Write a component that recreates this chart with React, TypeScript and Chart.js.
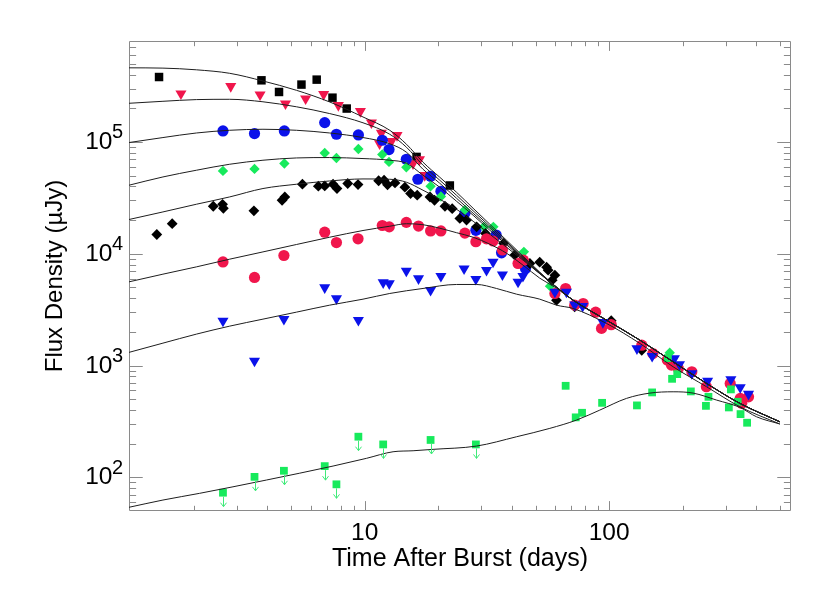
import React, { useEffect, useRef } from "react";
import { Chart, registerables } from "chart.js";

Chart.register(...registerables);

// ---------------- data (days, microJansky) ----------------
const blackSquareT = [1.44, 3.78, 4.46, 5.51, 6.36, 7.38, 8.44, 16.3, 22.3];
const blackSquareF = [381000, 356000, 280000, 326000, 361000, 249000, 199000, 73500, 40800];

const redTriangleT = [1.77, 2.83, 3.73, 4.74, 5.73, 6.79, 7.8, 9.6, 10.65, 11.5, 11.7, 12.86, 13.56, 15.76, 16.75, 17.6];
const redTriangleF = [270700, 314700, 265200, 220400, 244300, 266900, 212900, 188100, 149000, 96800, 120300, 101400, 114800, 64100, 69600, 50400];

const blueCircleT = [2.63, 3.54, 4.69, 6.86, 7.66, 9.42, 11.8, 12.57, 14.8, 16.5, 18.6, 20.5, 25.7, 28.5, 34.5, 36.3, 45.5];
const blueCircleF = [125400, 118900, 125400, 149000, 117200, 115500, 103600, 85500, 70000, 46400, 49300, 36200, 23000, 16200, 14700, 10200, 7380];

const greenDiamondT = [2.63, 3.54, 4.69, 6.86, 7.66, 9.42, 11.8, 12.57, 14.8, 18.6, 20.5, 25.7, 30.7, 33.6, 44.8, 57.3, 177];
const greenDiamondF = [55100, 57400, 64100, 79700, 71900, 86600, 77200, 66300, 59400, 40200, 32500, 24700, 17400, 17400, 10400, 5130, 1300];

const blackDiamondT = [1.41, 1.63, 2.4, 2.62, 2.64, 3.52, 4.59, 4.71, 5.56, 6.46, 6.86, 7.42, 7.7, 8.52, 9.39, 11.4, 12.0, 12.4, 13.3, 14.6, 15.4, 16.4, 18.5, 19.3, 21.3, 22.8, 24.5, 26.1, 28.7, 31.2, 37.0, 41.1, 47.4, 52.0, 55.5, 56.3, 58.5, 60.0, 60.9, 72.3, 102, 136];
const blackDiamondF = [14870, 18600, 26600, 27700, 25500, 24200, 30100, 32200, 41900, 40200, 40400, 41900, 38300, 42500, 41600, 45000, 45500, 41400, 43000, 39400, 34600, 33400, 32200, 30100, 26600, 25300, 20700, 20000, 17400, 15200, 12400, 9730, 8180, 8400, 7580, 7130, 5800, 6430, 3840, 3350, 2520, 1370];

const redCircleT = [2.63, 3.54, 4.67, 6.86, 7.66, 9.39, 11.8, 12.6, 14.8, 16.6, 18.6, 20.5, 25.7, 28.5, 31.5, 33.5, 36.6, 42.4, 44.6, 60.0, 66.4, 72.3, 78.3, 88.1, 93.1, 102, 136, 151, 173, 180, 192, 218, 250, 313, 344, 349, 372];
const redCircleF = [8450, 6140, 9650, 15600, 12600, 13600, 17900, 17400, 19100, 17700, 16000, 16000, 15300, 12800, 13600, 13000, 10800, 8180, 8760, 4410, 4890, 3470, 3590, 3000, 2150, 2320, 1520, 1280, 1120, 1010, 943, 880, 646, 692, 508, 459, 525];

const blueTriangleT = [2.63, 3.54, 4.67, 6.86, 7.66, 9.42, 11.9, 12.6, 14.8, 16.6, 18.6, 20.5, 25.5, 28.5, 31.5, 33.5, 36.6, 42.4, 44.4, 60.0, 66.9, 72.3, 77.9, 94.3, 130, 150, 185, 194, 218, 253, 315, 344, 372];
const blueTriangleF = [2510, 1100, 2600, 4990, 3980, 2550, 5530, 5420, 7030, 6010, 4720, 6300, 7350, 5930, 7130, 8450, 6500, 5600, 6300, 4560, 4560, 3500, 3400, 2440, 1420, 1215, 1160, 1023, 851, 730, 752, 638, 556];

const greenSquareT = [2.63, 3.54, 4.67, 6.86, 7.66, 9.42, 11.9, 18.6, 28.5, 66.4, 73.0, 77.5, 93.6, 130, 150, 174, 181, 190, 216, 249, 255, 309, 315, 336, 345, 367];
const greenSquareF = [72.9, 101, 114.5, 126, 86.6, 231, 197, 216, 197, 659, 344, 378, 464, 440, 575, 1165, 761, 838, 587, 436, 525, 422, 612, 474, 368, 308];
const greenSquareUpperLimit = [true, true, true, true, true, true, true, true, true, false, false, false, false, false, false, false, false, false, false, false, false, false, false, false, false, false];

// model curves
const modelT = [1.084, 1.494, 2.047, 2.802, 3.834, 5.254, 7.19, 9.84, 12.66, 14.82, 17.32, 20.28, 23.74, 27.76, 32.49, 38.02, 44.46, 52.04, 60.91, 71.23, 97.6, 133.6, 182.8, 250.5, 342.8, 499.6];
const model1F = [460500, 457700, 442000, 411300, 351000, 289900, 227800, 167300, 127200, 95400, 65870, 48350, 35510, 25550, 18370, 13220, 9513, 6845, 5025, 3846, 2548, 1688, 1080, 692, 459, 314];
const model2F = [221800, 231100, 239300, 240800, 228700, 206400, 179400, 148400, 117200, 89700, 61900, 45470, 33390, 24270, 17630, 12820, 9320, 6775, 5025, 3846, 2548, 1688, 1080, 692, 459, 314];
const model3F = [98770, 109500, 120300, 127200, 129900, 127200, 120300, 109500, 96360, 80900, 57000, 42730, 31390, 23050, 16920, 12430, 9130, 6705, 5025, 3846, 2548, 1688, 1080, 692, 459, 314];
const model4F = [41010, 48650, 55850, 63200, 68640, 71940, 72530, 71050, 68640, 64500, 50400, 39360, 29510, 22120, 16240, 12050, 8945, 6636, 5025, 3846, 2548, 1688, 1080, 692, 459, 314];
const model5F = [20240, 23670, 27730, 32240, 38330, 41860, 44790, 46680, 46390, 43620, 37000, 30750, 25030, 19550, 14960, 11450, 8760, 6636, 5025, 3846, 2548, 1688, 1080, 692, 459, 314];
const model6F = [5605, 6568, 7630, 8945, 10390, 12100, 14060, 16140, 17630, 18560, 18190, 16920, 15430, 14060, 12180, 10120, 7902, 6047, 4922, 3846, 2548, 1688, 1080, 692, 459, 314];
const model7T = [1.084, 1.494, 2.047, 2.802, 3.834, 5.254, 7.19, 9.84, 12.66, 17.32, 23.74, 28.7, 34.6, 41.8, 52.04, 60.91, 71.23, 97.6, 133.6, 182.8, 250.5, 342.8, 499.6];
const model7F = [1311, 1587, 1910, 2252, 2601, 3004, 3470, 3925, 4413, 4893, 5312, 5312, 4893, 4350, 3925, 3470, 3240, 2380, 1577, 975, 646, 428, 300];
const model8T = [1.084, 1.494, 2.11, 3.96, 7.42, 10.16, 13.06, 15.77, 19.04, 28.7, 41.8, 57.2, 73.56, 91.6, 117.8, 146.8, 182.8, 220.7, 275.3, 342.8, 401.3, 499.6];
const model8F = [53.95, 62.66, 71.95, 94.6, 126.2, 147.9, 169.4, 172.9, 178, 190.5, 230.7, 274.2, 325.3, 399.5, 508.4, 567, 582.5, 567, 491, 422.6, 348, 300];

// axes
const X_MIN = 1.085;
const X_MAX = 555;
const Y_MIN = 50;
const Y_MAX = 800000;
const X_TICK_LABELS = [10, 100];
const Y_TICK_EXPONENTS = [2, 3, 4, 5];
const X_TITLE = "Time After Burst (days)";
const Y_TITLE = "Flux Density (\u00b5Jy)";

// ---------------- styles ----------------
const FONT = "'Liberation Sans', Arial, Helvetica, sans-serif";
const BLACK = "#000000";
const RED = "#f0164c";
const BLUE = "#0b12ea";
const GREEN = "#17ea5c";
const ARROW_GREEN = "#40ea7a";
const LINE_COLOR = "#1e1e1e";
const AXIS_COLOR = "#8a8a8a";

const zip = (t: number[], f: number[]) => t.map((v, i) => ({ x: v, y: f[i] }));

const pointSet = (label: string, t: number[], f: number[], color: string, style: string, radius: number, order: number, rotation = 0) => ({
  label,
  data: zip(t, f),
  showLine: false,
  pointStyle: style,
  pointRotation: rotation,
  pointRadius: radius,
  pointHoverRadius: radius,
  pointBackgroundColor: color,
  pointBorderColor: color,
  pointBorderWidth: 0,
  order,
});

const lineSet = (label: string, t: number[], f: number[]) => ({
  label,
  data: zip(t, f),
  showLine: true,
  borderColor: LINE_COLOR,
  borderWidth: 1,
  pointRadius: 0,
  pointHoverRadius: 0,
  fill: false,
  cubicInterpolationMode: "monotone",
  order: 0,
});

function tickValues(min: number, max: number) {
  const out: { v: number; major: boolean }[] = [];
  for (let e = -1; e <= 6; e++) {
    for (let m = 1; m <= 9; m++) {
      const v = m * Math.pow(10, e);
      if (v > min && v < max) out.push({ v, major: m === 1 });
    }
  }
  return out;
}

const framePlugin = {
  id: "idlFrame",
  beforeDatasetsDraw(chart: any) {
    const { ctx, chartArea: a, scales } = chart;
    const xs = scales.x;
    const ys = scales.y;
    const L = a.left + 0.5;
    const R = a.right - 0.5;
    const T = a.top + 0.5;
    const B = a.bottom - 0.5;
    const xMajor = 0.02 * (a.bottom - a.top);
    const yMajor = 0.02 * (a.right - a.left);
    ctx.save();
    ctx.strokeStyle = AXIS_COLOR;
    ctx.lineWidth = 1;
    ctx.beginPath();
    ctx.moveTo(L, T);
    ctx.lineTo(R, T);
    ctx.lineTo(R, B);
    ctx.lineTo(L, B);
    ctx.closePath();
    for (const tk of tickValues(X_MIN, X_MAX)) {
      const px = Math.round(xs.getPixelForValue(tk.v)) + 0.5;
      const len = tk.major ? xMajor : xMajor / 2;
      ctx.moveTo(px, B);
      ctx.lineTo(px, B - len);
      ctx.moveTo(px, T);
      ctx.lineTo(px, T + len);
    }
    for (const tk of tickValues(Y_MIN, Y_MAX)) {
      const py = Math.round(ys.getPixelForValue(tk.v)) + 0.5;
      const len = tk.major ? yMajor : yMajor / 2;
      ctx.moveTo(L, py);
      ctx.lineTo(L + len, py);
      ctx.moveTo(R, py);
      ctx.lineTo(R - len, py);
    }
    ctx.stroke();
    ctx.restore();
  },
  afterDatasetsDraw(chart: any) {
    const { ctx, scales } = chart;
    const xs = scales.x;
    const ys = scales.y;
    ctx.save();
    ctx.strokeStyle = ARROW_GREEN;
    ctx.lineWidth = 1;
    ctx.beginPath();
    greenSquareT.forEach((t, i) => {
      if (!greenSquareUpperLimit[i]) return;
      const px = Math.round(xs.getPixelForValue(t)) + 0.5;
      const py = ys.getPixelForValue(greenSquareF[i]);
      const tip = py + 14;
      ctx.moveTo(px, py + 4);
      ctx.lineTo(px, tip);
      ctx.moveTo(px - 3, tip - 4);
      ctx.lineTo(px, tip);
      ctx.lineTo(px + 3, tip - 4);
    });
    ctx.stroke();
    ctx.restore();
  },
  afterDraw(chart: any) {
    const { ctx, chartArea: a, scales } = chart;
    const ys = scales.y;
    ctx.save();
    ctx.fillStyle = "#000";
    ctx.textBaseline = "alphabetic";
    for (const e of Y_TICK_EXPONENTS) {
      const y = ys.getPixelForValue(Math.pow(10, e));
      const right = a.left - 6;
      const expStr = String(e);
      ctx.font = `20px ${FONT}`;
      const w = ctx.measureText(expStr).width;
      ctx.textAlign = "left";
      ctx.fillText(expStr, right - w, y - 3.5);
      ctx.font = `24.5px ${FONT}`;
      ctx.textAlign = "right";
      ctx.fillText("10", right - w + 0.5, y + 7);
    }
    ctx.restore();
  },
};

export default function App() {
  const canvasRef = useRef<HTMLCanvasElement | null>(null);

  useEffect(() => {
    const canvas = canvasRef.current;
    if (!canvas) return;
    const chart = new Chart(canvas, {
      type: "scatter",
      data: {
        datasets: [
          lineSet("model 1", modelT, model1F),
          lineSet("model 2", modelT, model2F),
          lineSet("model 3", modelT, model3F),
          lineSet("model 4", modelT, model4F),
          lineSet("model 5", modelT, model5F),
          lineSet("model 6", modelT, model6F),
          lineSet("model 7", model7T, model7F),
          lineSet("model 8", model8T, model8F),
          pointSet("green squares", greenSquareT, greenSquareF, GREEN, "rect", 5.5, 1),
          pointSet("blue triangles", blueTriangleT, blueTriangleF, BLUE, "triangle", 6.4, 2, 180),
          pointSet("red circles", redCircleT, redCircleF, RED, "circle", 5.6, 3),
          pointSet("black diamonds", blackDiamondT, blackDiamondF, BLACK, "rectRot", 5.4, 4),
          pointSet("green diamonds", greenDiamondT, greenDiamondF, GREEN, "rectRot", 5.2, 5),
          pointSet("blue circles", blueCircleT, blueCircleF, BLUE, "circle", 5.6, 6),
          pointSet("red triangles", redTriangleT, redTriangleF, RED, "triangle", 6.4, 7, 180),
          pointSet("black squares", blackSquareT, blackSquareF, BLACK, "rect", 6.0, 8),
        ] as any,
      },
      options: {
        animation: false,
        responsive: false,
        devicePixelRatio: 1,
        events: [],
        layout: { padding: { left: 0, top: 41, right: 39, bottom: 0 } },
        plugins: {
          legend: { display: false },
          tooltip: { enabled: false },
        },
        scales: {
          x: {
            type: "logarithmic",
            position: "bottom",
            min: X_MIN,
            max: X_MAX,
            grid: { display: false, drawTicks: false },
            border: { display: false },
            ticks: {
              autoSkip: false,
              maxRotation: 0,
              minRotation: 0,
              padding: 8,
              color: "#000",
              font: { family: FONT, size: 24.5 },
              callback: (v: any) => {
                const n = Number(v);
                const hit = X_TICK_LABELS.find((t) => Math.abs(t - n) < 1e-6 * t);
                return hit !== undefined ? String(hit) : "";
              },
            },
            title: {
              display: true,
              text: X_TITLE,
              color: "#000",
              font: { family: FONT, size: 25 },
              padding: { top: 0, bottom: 19 },
            },
            afterFit: (s: any) => {
              s.height = 82;
            },
          },
          y: {
            type: "logarithmic",
            position: "left",
            min: Y_MIN,
            max: Y_MAX,
            grid: { display: false, drawTicks: false },
            border: { display: false },
            ticks: { display: false },
            title: {
              display: true,
              text: Y_TITLE,
              color: "#000",
              font: { family: FONT, size: 24 },
              padding: { top: 41, bottom: 0 },
            },
            afterFit: (s: any) => {
              s.width = 129;
            },
          },
        },
      } as any,
      plugins: [framePlugin],
    });
    return () => chart.destroy();
  }, []);

  return (
    <div style={{ position: "fixed", left: 0, top: 0, width: 830, height: 593, background: "#fff" }}>
      <canvas ref={canvasRef} width={830} height={593} style={{ display: "block" }} />
    </div>
  );
}
